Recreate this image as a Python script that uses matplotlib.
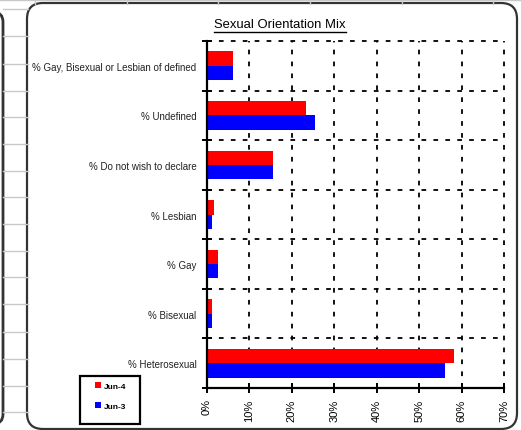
import matplotlib
matplotlib.use('Agg')
import matplotlib.pyplot as plt
from matplotlib.patches import FancyBboxPatch, Rectangle
import numpy as np

# chart data (percent of staff)
categories = ['% Gay, Bisexual or Lesbian of defined', '% Undefined', '% Do not wish to declare',
              '% Lesbian', '% Gay', '% Bisexual', '% Heterosexual']
jun4 = [6.2, 23.3, 15.5, 1.7, 2.7, 1.2, 58.1]
jun3 = [6.2, 25.5, 15.5, 1.2, 2.7, 1.2, 56.0]
series_names = ['Jun-4', 'Jun-3']
xticks = [0, 10, 20, 30, 40, 50, 60, 70]
xtick_labels = ['0%', '10%', '20%', '30%', '40%', '50%', '60%', '70%']

plt.rcParams['font.family'] = ['Liberation Sans', 'DejaVu Sans']

W, H = 521, 431
fig = plt.figure(figsize=(W / 100, H / 100), dpi=100)

# worksheet behind the chart, drawn in pixel units
bg = fig.add_axes([0, 0, 1, 1])
bg.set_xlim(0, W)
bg.set_ylim(H, 0)
bg.axis('off')
sheet = '#c8c8c8'
for yy in [10, 36.7, 65, 91.7, 118.3, 145, 171.7, 198.3, 225, 251.7, 278.3, 305, 333, 360, 386.7, 413.3]:
    bg.plot([3, 28], [yy, yy], color=sheet, lw=1)
for xx in [35, 127, 218, 310, 402, 493]:
    bg.plot([xx, xx], [0, 5], color=sheet, lw=1)
bg.plot([0, W], [0.5, 0.5], color=sheet, lw=1)

# neighbouring chart frame on the left
bg.add_patch(FancyBboxPatch((-40, 13), 43, 412, boxstyle='round,pad=0,rounding_size=10',
                            fc='none', ec='#333333', lw=2))
# chart area frame
bg.add_patch(FancyBboxPatch((27, 4), 490, 426, boxstyle='round,pad=0,rounding_size=16',
                            fc='white', ec='#333333', lw=1.6))

# title with underline
bg.text(280, 25, 'Sexual Orientation Mix', ha='center', va='center', fontsize=9.4, color='black')
bg.plot([214, 346], [33, 33], color='black', lw=1)

ax = fig.add_axes([207 / W, 1 - 389 / H, (504 - 207) / W, (389 - 42) / H])
y = np.arange(len(categories))
ax.barh(y - 0.145, jun4, height=0.29, color='#ff0000', label=series_names[0], zorder=3)
ax.barh(y + 0.145, jun3, height=0.29, color='#0000ff', label=series_names[1], zorder=3)

ax.set_xlim(0, 70)
ax.set_ylim(len(categories) - 0.5, -0.5)
ax.set_xticks(xticks)
ax.set_xticklabels(xtick_labels, rotation=90, fontsize=8)
ax.set_yticks(y)
ax.set_yticklabels(categories, fontsize=7)
ax.set_yticks(np.arange(-0.5, len(categories), 1), minor=True)
ax.tick_params(axis='y', which='major', length=0, pad=7.5, colors='#222222')
ax.tick_params(axis='y', which='minor', direction='inout', length=7, width=1.4)
ax.tick_params(axis='x', which='major', direction='inout', length=7, width=1.4, pad=4)

dash = (0, (2.6, 4.0))
ax.grid(axis='x', which='major', color='black', lw=1.3, linestyle=dash, zorder=1)
ax.grid(axis='y', which='minor', color='black', lw=1.3, linestyle=dash, zorder=1)
for tick in ax.xaxis.get_major_ticks() + ax.yaxis.get_minor_ticks():
    tick.gridline.set_clip_on(False)

for side in ['top', 'right']:
    ax.spines[side].set_visible(False)
for side in ['left', 'bottom']:
    ax.spines[side].set_linewidth(1.6)
    ax.spines[side].set_zorder(4)
ax.patch.set_alpha(0)

# legend box below the category labels
bg.add_patch(Rectangle((80, 377), 60, 48, fc='white', ec='black', lw=1.6))
leg = fig.legend(loc='center', bbox_to_anchor=(111 / W, 1 - 397 / H), fontsize=6,
                 handlelength=0.7, handleheight=0.8, handletextpad=0.35, labelspacing=1.45,
                 borderpad=0, borderaxespad=0, frameon=False)
for t in leg.get_texts():
    t.set_fontweight('bold')

fig.savefig('out.png', dpi=100)
